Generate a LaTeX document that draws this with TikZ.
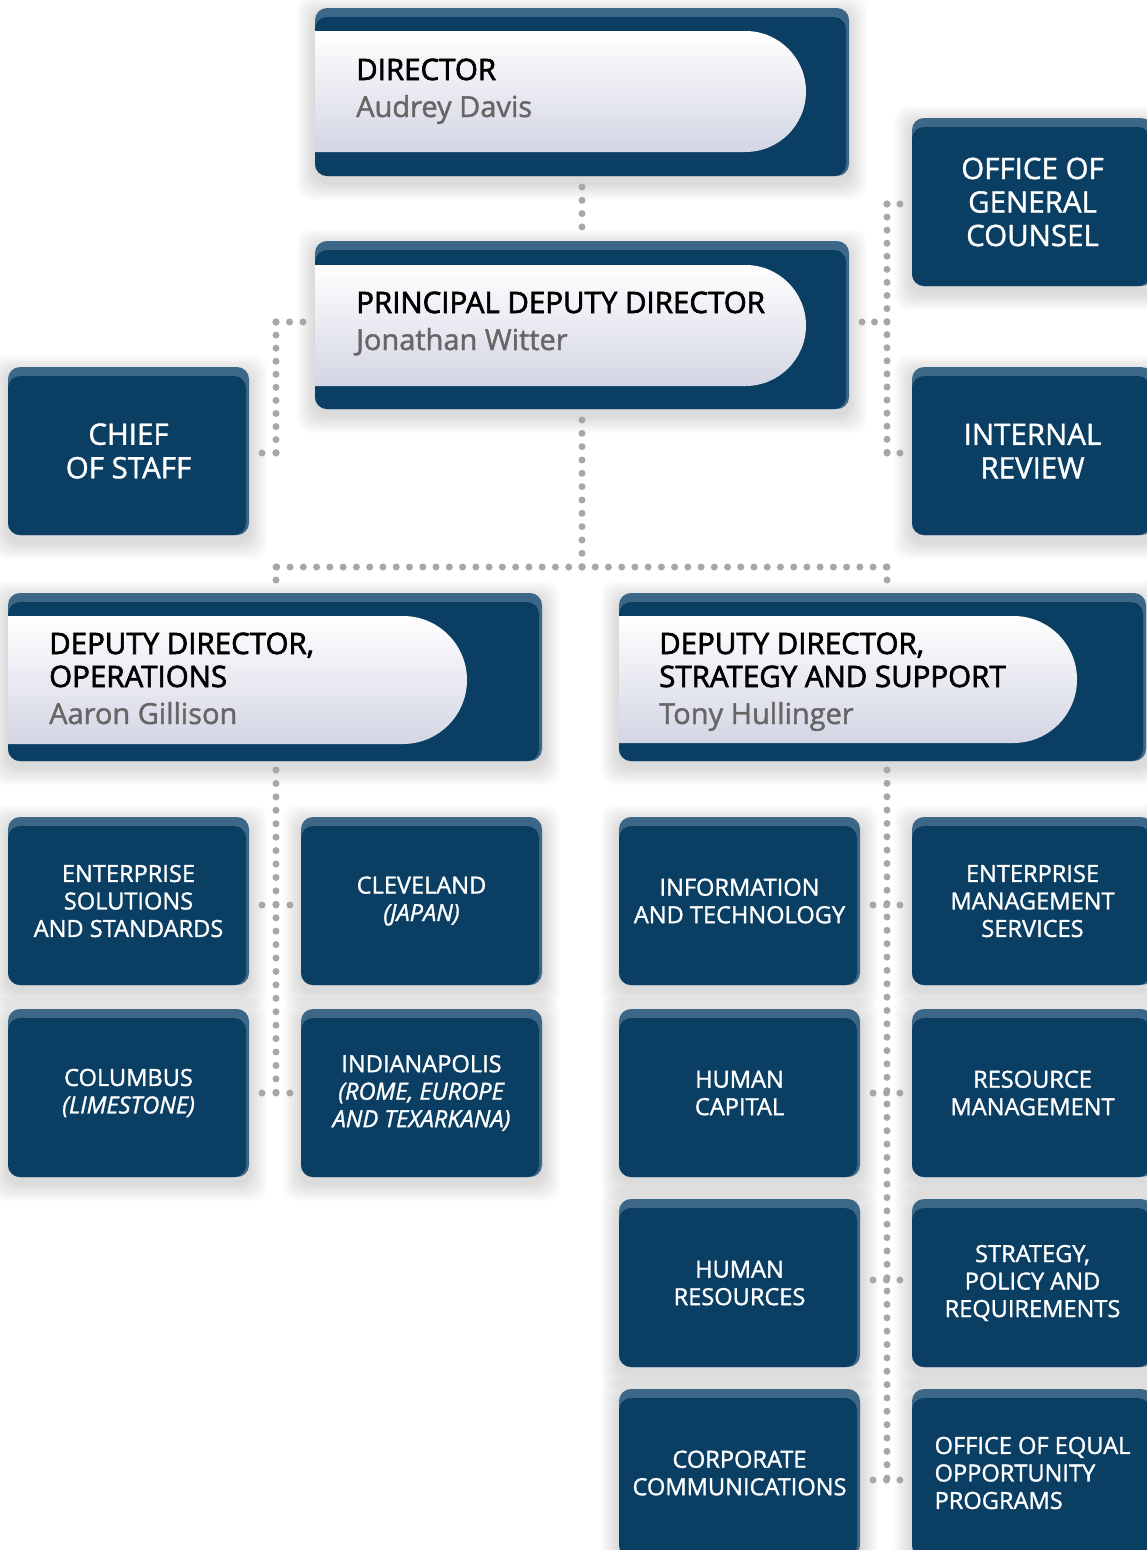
\documentclass[tikz,border=0pt]{standalone}
\usepackage{fontspec}
\setmainfont{Open Sans}
\newfontfamily\semib[FakeBold=2.2]{Open Sans}
\newfontfamily\namef[FakeBold=1.4]{Open Sans}
\newfontfamily\whitef[FakeBold=1.3]{Open Sans}
\usetikzlibrary{shapes.misc,calc}
\definecolor{navy}{HTML}{0A3E63}
\definecolor{edgec}{HTML}{3D6787}
\definecolor{pillbot}{HTML}{D3D5E4}
\definecolor{dotc}{HTML}{A7A7A7}
\definecolor{namec}{HTML}{666666}
\pgfdeclarelayer{bg}
\pgfsetlayers{bg,main}
\newcommand\smalltxt{\whitef\fontsize{23.6}{27.5}\selectfont}
\newcommand\midtxt{\whitef\fontsize{29.5}{33.5}\selectfont}
\newcommand\ttltxt{\semib\fontsize{29.5}{33}\selectfont}
\newcommand\nametxt{\namef\fontsize{29}{32}\selectfont}
\tikzset{
 box/.style={rectangle, rounded corners=12pt, fill=edgec, inner sep=0pt, outer sep=0pt,
   text=white, align=center, anchor=north west,
   path picture={\fill[navy, rounded corners=12pt]
     ([yshift=-9pt]path picture bounding box.north west) rectangle
     ([xshift=-3pt]path picture bounding box.south east);}},
 unitbox/.style={box, minimum width=241pt, minimum height=168pt, font=\smalltxt},
 officebox/.style={box, minimum width=241pt, minimum height=168pt, font=\midtxt},
 leadbox/.style={box, minimum height=168pt},
 pill/.style={rounded rectangle, rounded rectangle left arc=none, inner sep=0pt,
   outer sep=0pt, top color=white, bottom color=pillbot, anchor=north west},
 ttl/.style={font=\ttltxt, text=black, inner sep=0pt, anchor=base west, align=left},
 nm/.style={font=\nametxt, text=namec, inner sep=0pt, anchor=base west},
 dotline/.style={draw=dotc, line width=7pt, line cap=round, dash pattern=on 0pt off #1},
}
\begin{document}
\begin{tikzpicture}[x=1pt,y=-1pt]
\useasboundingbox (0,0) rectangle (1146,1550);

% ---------- connector points ----------
\coordinate (pL) at (303,322); \coordinate (aL) at (276,322);
\coordinate (bL) at (276,453); \coordinate (cL) at (262,453);
\coordinate (pR) at (862,322); \coordinate (aR) at (887,322);
\coordinate (tR) at (887,204); \coordinate (bR) at (887,453);
\coordinate (oR) at (900,204); \coordinate (iR) at (900,453);
\coordinate (pB) at (582,420); \coordinate (jM) at (582,567);
\coordinate (jL) at (276,567); \coordinate (jR) at (887,567);
\coordinate (dL) at (276,580); \coordinate (dR) at (887,580);
\coordinate (oB) at (276,770); \coordinate (oE) at (276,1093);
\coordinate (sB) at (887,770); \coordinate (sE) at (887,1480);

% ---------- leader boxes ----------
\node[leadbox, minimum width=534pt] (dir) at (315,8) {};
\node[pill, minimum width=491pt, minimum height=121pt] (dirp) at (315,31) {};
\node[ttl] (dirt) at (356,80) {DIRECTOR};
\node[nm] (dirn) at (356,117) {Audrey Davis};

\node[leadbox, minimum width=534pt] (pdd) at (315,241) {};
\node[pill, minimum width=491pt, minimum height=121pt] (pddp) at (315,265) {};
\node[ttl] (pddt) at (356,313) {PRINCIPAL DEPUTY DIRECTOR};
\node[nm] (pddn) at (356,350) {Jonathan Witter};

\node[leadbox, minimum width=534pt] (ddo) at (8,593) {};
\node[pill, minimum width=459pt, minimum height=128pt] (ddop) at (8,616) {};
\node[ttl] (ddot) at (49,687) {DEPUTY DIRECTOR,\\OPERATIONS};
\node[nm] (ddon) at (49,724) {Aaron Gillison};

\node[leadbox, minimum width=527pt] (dds) at (619,593) {};
\node[pill, minimum width=458pt, minimum height=127pt] (ddsp) at (619,616) {};
\node[ttl] (ddst) at (659,687) {DEPUTY DIRECTOR,\\STRATEGY AND SUPPORT};
\node[nm] (ddsn) at (659,724) {Tony Hullinger};

% ---------- offices ----------
\node[officebox] (cos) at (8,367) {CHIEF\\OF STAFF};
\node[officebox] (ogc) at (912,118) {OFFICE OF\\GENERAL\\COUNSEL};
\node[officebox] (ir) at (912,367) {INTERNAL\\REVIEW};

% ---------- units ----------
\node[unitbox] (ess) at (8,817) {ENTERPRISE\\SOLUTIONS\\AND STANDARDS};
\node[unitbox] (cle) at (301,817) {CLEVELAND\\\textit{(JAPAN)}};
\node[unitbox] (col) at (8,1009) {COLUMBUS\\\textit{(LIMESTONE)}};
\node[unitbox] (ind) at (301,1009) {INDIANAPOLIS\\\textit{(ROME, EUROPE}\\\textit{AND TEXARKANA)}};
\node[unitbox] (it) at (619,817) {INFORMATION\\AND TECHNOLOGY};
\node[unitbox] (ems) at (912,817) {ENTERPRISE\\MANAGEMENT\\SERVICES};
\node[unitbox] (hc) at (619,1009) {HUMAN\\CAPITAL};
\node[unitbox] (rm) at (912,1009) {RESOURCE\\MANAGEMENT};
\node[unitbox] (hr) at (619,1199) {HUMAN\\RESOURCES};
\node[unitbox] (spr) at (912,1199) {STRATEGY,\\POLICY AND\\REQUIREMENTS};
\node[unitbox] (cc) at (619,1389) {CORPORATE\\COMMUNICATIONS};
\node[unitbox, align=left] (eeo) at (912,1389) {OFFICE OF EQUAL\\OPPORTUNITY\\PROGRAMS};

% ---------- dotted connectors ----------
\draw[dotline=13.30] ([yshift=-11pt]dir.south) -- ([yshift=14pt]pdd.north);
\draw[dotline=13.47] (pL) -- (aL);
\draw[dotline=13.07] (aL) -- (bL);
\draw[dotline=13.97] (bL) -- (cL);
\draw[dotline=12.47] (pR) -- (aR);
\draw[dotline=13.07] (tR) -- (bR);
\draw[dotline=12.97] (tR) -- (oR);
\draw[dotline=12.97] (bR) -- (iR);
\draw[dotline=13.33] (pB) -- (jM);
\draw[dotline=13.27] (jM) -- (jL);
\draw[dotline=13.23] (jM) -- (jR);
\draw[dotline=12.97] (jL) -- (dL);
\draw[dotline=12.97] (jR) -- (dR);
\draw[dotline=13.43] (oB) -- (oE);
\draw[dotline=13.97] ([xshift=13pt]ess.east |- 0,905) -- ([xshift=-11pt]cle.west |- 0,905);
\draw[dotline=13.97] ([xshift=13pt]col.east |- 0,1093) -- ([xshift=-11pt]ind.west |- 0,1093);
\draw[dotline=13.36] (sB) -- (sE);
\draw[dotline=13.47] ([xshift=13pt]it.east |- 0,905) -- ([xshift=-12pt]ems.west |- 0,905);
\draw[dotline=13.47] ([xshift=13pt]hc.east |- 0,1093) -- ([xshift=-12pt]rm.west |- 0,1093);
\draw[dotline=13.47] ([xshift=13pt]hr.east |- 0,1280) -- ([xshift=-12pt]spr.west |- 0,1280);
\draw[dotline=13.47] ([xshift=13pt]cc.east |- 0,1480) -- ([xshift=-12pt]eeo.west |- 0,1480);

% ---------- background and shadows ----------
\begin{pgfonlayer}{bg}
\fill[white] (0,0) rectangle (1146,1550);
\foreach \n in {dir,pdd,ddo,dds,cos,ogc,ir,ess,cle,col,ind,it,ems,hc,rm,hr,spr,cc,eeo}{
  \foreach \r in {2,4,...,18}{
    \fill[black, opacity=0.014, rounded corners=14pt]
      ([shift={(-\r,-\r+6)}]\n.north west) rectangle ([shift={(\r,\r+6)}]\n.south east);
  }
}
\end{pgfonlayer}
\end{tikzpicture}
\end{document}
